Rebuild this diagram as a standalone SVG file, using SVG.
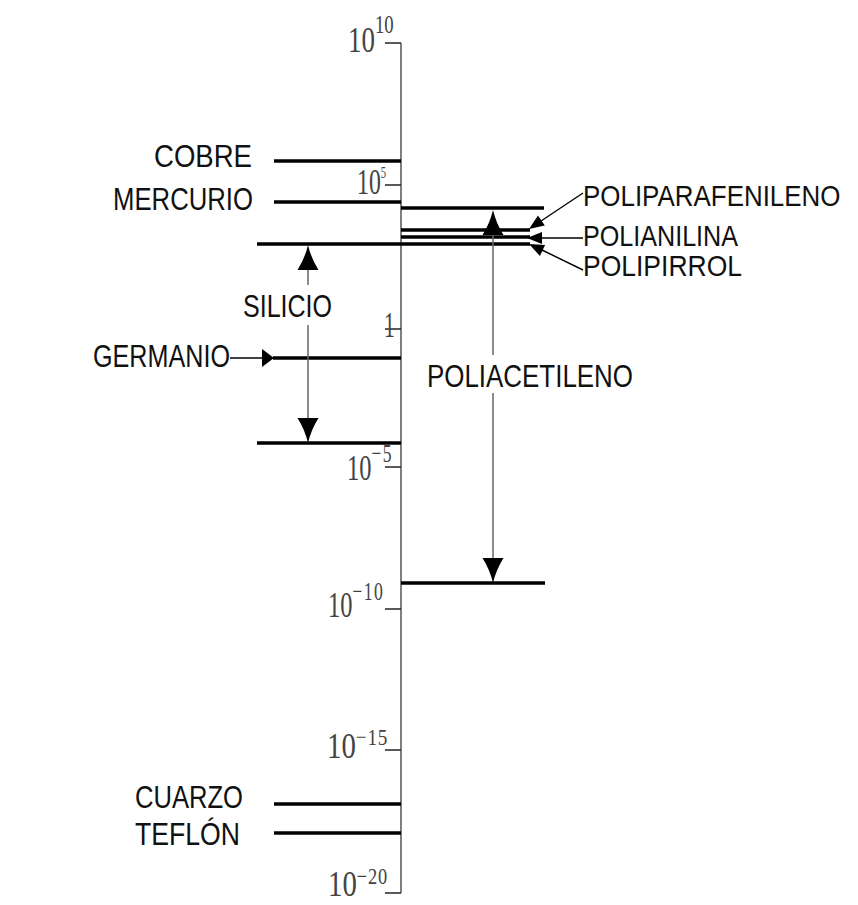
<svg xmlns="http://www.w3.org/2000/svg" width="858" height="905" viewBox="0 0 858 905">
<style>
.bg{fill:#fff}
.axis{stroke:#555;stroke-width:1.5;fill:none}
.tick{stroke:#222;stroke-width:1.5}
.thick{stroke:#000;stroke-width:3.5}
.thin{stroke:#000;stroke-width:1.4;fill:none}
.vthin{stroke:#666;stroke-width:1.5;fill:none}
.head{fill:#000}
.lab{font-family:"Liberation Sans",Arial,sans-serif;font-size:32px;fill:#111}
.labr{font-family:"Liberation Sans",Arial,sans-serif;font-size:30px;fill:#111}
.num{font-family:"Liberation Serif","Times New Roman",serif;font-size:36px;fill:#444}
</style>
<rect class="bg" x="0" y="0" width="858" height="905"/>
<g id="axis">
<line class="axis" x1="401" y1="43" x2="401" y2="893"/>
<line class="tick" x1="385" y1="43" x2="401" y2="43"/>
<line class="tick" x1="385" y1="185" x2="401" y2="185"/>
<line class="tick" x1="385" y1="329" x2="401" y2="329"/>
<line class="tick" x1="385" y1="467" x2="401" y2="467"/>
<line class="tick" x1="385" y1="609" x2="401" y2="609"/>
<line class="tick" x1="385" y1="750" x2="401" y2="750"/>
<line class="tick" x1="385" y1="893" x2="401" y2="893"/>
<text class="num" transform="translate(348,52) scale(0.75,1)">10<tspan dy="-19" font-size="25">10</tspan></text>
<text class="num" transform="translate(357,194) scale(0.66,1)" font-size="32">10<tspan dy="-16" font-size="16">5</tspan></text>
<text class="num" transform="translate(384,337) scale(0.6,1)" font-size="34">1</text>
<text class="num" transform="translate(347,480) scale(0.68,1)" font-size="37">10<tspan dy="-18" font-size="26" letter-spacing="2">−5</tspan></text>
<text class="num" transform="translate(328,617) scale(0.68,1)" font-size="37">10<tspan dy="-17" font-size="26" letter-spacing="2">−10</tspan></text>
<text class="num" transform="translate(327,758) scale(0.8,1)" font-size="34">10<tspan dy="-13" font-size="24" letter-spacing="1">−15</tspan></text>
<text class="num" transform="translate(328,896) scale(0.8,1)" font-size="34">10<tspan dy="-12" font-size="23" letter-spacing="1">−20</tspan></text>
</g>
<g id="cobre">
<line class="thick" x1="274" y1="161" x2="401" y2="161"/>
<text class="lab" x="154" y="167" textLength="98" lengthAdjust="spacingAndGlyphs">COBRE</text>
</g>
<g id="mercurio">
<line class="thick" x1="274" y1="202" x2="401" y2="202"/>
<text class="lab" x="113" y="210" textLength="140" lengthAdjust="spacingAndGlyphs">MERCURIO</text>
</g>
<g id="silicio">
<line class="thick" x1="257" y1="244" x2="530" y2="244"/>
<line class="thick" x1="257" y1="443" x2="401" y2="443"/>
<text class="lab" x="243" y="317" textLength="89" lengthAdjust="spacingAndGlyphs">SILICIO</text>
</g>
<g id="germanio">
<line class="thick" x1="273" y1="358" x2="401" y2="358"/>
<text class="lab" x="93" y="367" textLength="137" lengthAdjust="spacingAndGlyphs">GERMANIO</text>
</g>
<g id="poliacetileno">
<line class="thick" x1="401" y1="208" x2="544" y2="208"/>
<line class="thick" x1="401" y1="583" x2="545" y2="583"/>
<text class="lab" x="427" y="387" textLength="206" lengthAdjust="spacingAndGlyphs">POLIACETILENO</text>
</g>
<g id="poliparafenileno">
<line class="thick" x1="401" y1="230" x2="530" y2="230"/>
<text class="labr" transform="translate(583,206) scale(0.865,1)">POLIPARAFENILENO</text>
</g>
<g id="polianilina">
<line class="thick" x1="401" y1="237" x2="530" y2="237"/>
<text class="labr" x="583" y="246" textLength="155" lengthAdjust="spacingAndGlyphs">POLIANILINA</text>
</g>
<g id="polipirrol">
<text class="labr" x="583" y="276" textLength="159" lengthAdjust="spacingAndGlyphs">POLIPIRROL</text>
</g>
<g id="cuarzo">
<line class="thick" x1="274" y1="804" x2="401" y2="804"/>
<text class="lab" x="135" y="808" textLength="108" lengthAdjust="spacingAndGlyphs">CUARZO</text>
</g>
<g id="teflon">
<line class="thick" x1="274" y1="833" x2="401" y2="833"/>
<text class="lab" x="135" y="845" textLength="105" lengthAdjust="spacingAndGlyphs">TEFLÓN</text>
</g>
<g id="connectors">
<line class="vthin" x1="308" y1="268" x2="308" y2="285"/>
<line class="vthin" x1="308" y1="325" x2="308" y2="420"/>
<path class="head" d="M308,245 Q311,258 318.5,270 L297.5,270 Q305,258 308,245 Z"/>
<path class="head" d="M308,443 Q311,430 318.5,418 L297.5,418 Q305,430 308,443 Z"/>
<line class="vthin" x1="493" y1="233" x2="493" y2="355"/>
<line class="vthin" x1="493" y1="393" x2="493" y2="560"/>
<path class="head" d="M493,210 Q496,223 503.5,235 L482.5,235 Q490,223 493,210 Z"/>
<path class="head" d="M493,583 Q496,570 503.5,558 L482.5,558 Q490,570 493,583 Z"/>
<line class="thin" x1="230" y1="358" x2="264" y2="358"/>
<path class="head" d="M274,358 L262,349 L262,367 Z"/>
<line class="thin" x1="583" y1="193" x2="541" y2="221"/>
<path class="head" d="M529,229 L544.8,225.5 L538,215.6 Z"/>
<line class="thin" x1="583" y1="238" x2="541" y2="238"/>
<path class="head" d="M527,238 L542,232 L542,244 Z"/>
<line class="thin" x1="583" y1="270" x2="542" y2="250"/>
<path class="head" d="M529,244 L545.1,245.1 L539.9,255.9 Z"/>
</g>
</svg>
